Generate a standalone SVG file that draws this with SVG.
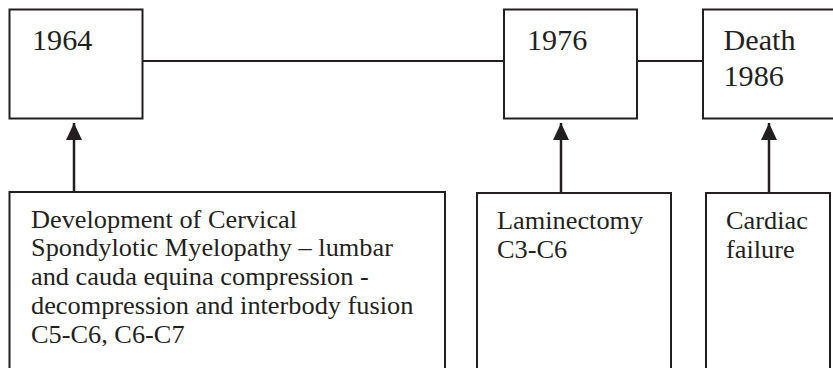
<svg xmlns="http://www.w3.org/2000/svg" width="833" height="368" viewBox="0 0 833 368">
<style>
.box{fill:#fff;stroke:#231f20;stroke-width:2}
.conn{stroke:#231f20;stroke-width:2;fill:none}
.arr{stroke:#231f20;stroke-width:2.5;fill:none}
.yr{font-family:"Liberation Serif","Times New Roman",serif;font-size:29px;fill:#231f20}
.bd{font-family:"Liberation Serif","Times New Roman",serif;font-size:24.5px;fill:#231f20}
</style>
<defs>
<marker id="ah" markerUnits="userSpaceOnUse" markerWidth="18" markerHeight="18" viewBox="0 0 18 18" refX="17" refY="9" orient="auto">
<path d="M0,1 L17,9 L0,17 Z" fill="#231f20"/>
</marker>
</defs>
<rect width="833" height="368" fill="#fff"/>
<g id="connectors">
<line class="conn" x1="142.5" y1="61" x2="504" y2="61"/>
<line class="conn" x1="637" y1="61" x2="703" y2="61"/>
<line class="arr" x1="74" y1="192" x2="74" y2="123" marker-end="url(#ah)"/>
<line class="arr" x1="561" y1="193" x2="561" y2="123" marker-end="url(#ah)"/>
<line class="arr" x1="769" y1="193" x2="769" y2="123" marker-end="url(#ah)"/>
</g>
<g id="n1964">
<rect class="box" x="9.5" y="9.5" width="133" height="109"/>
<text class="yr" transform="matrix(1.04 0 0 1 32 49.5)">1964</text>
</g>
<g id="n1976">
<rect class="box" x="504" y="9.5" width="133" height="109"/>
<text class="yr" transform="matrix(1.04 0 0 1 527 49.5)">1976</text>
</g>
<g id="nDeath">
<rect class="box" x="703" y="9.5" width="140" height="109"/>
<text class="yr" transform="matrix(1.04 0 0 1 723.5 49.5)"><tspan x="0" y="0">Death</tspan><tspan x="0" y="36.5">1986</tspan></text>
</g>
<g id="nDev">
<rect class="box" x="9.5" y="192" width="435.5" height="190"/>
<text class="bd" transform="matrix(1.075 0 0 1 31 227.5)"><tspan x="0" y="0">Development of Cervical</tspan><tspan x="0" y="29">Spondylotic Myelopathy – lumbar</tspan><tspan x="0" y="58">and cauda equina compression -</tspan><tspan x="0" y="87">decompression and interbody fusion</tspan><tspan x="0" y="116">C5-C6, C6-C7</tspan></text>
</g>
<g id="nLam">
<rect class="box" x="477" y="193" width="194" height="190"/>
<text class="bd" transform="matrix(1.075 0 0 1 497 228.5)"><tspan x="0" y="0">Laminectomy</tspan><tspan x="0" y="30">C3-C6</tspan></text>
</g>
<g id="nCard">
<rect class="box" x="706" y="193" width="124" height="190"/>
<text class="bd" transform="matrix(1.075 0 0 1 726 228.5)"><tspan x="0" y="0">Cardiac</tspan><tspan x="0" y="30">failure</tspan></text>
</g>
</svg>
